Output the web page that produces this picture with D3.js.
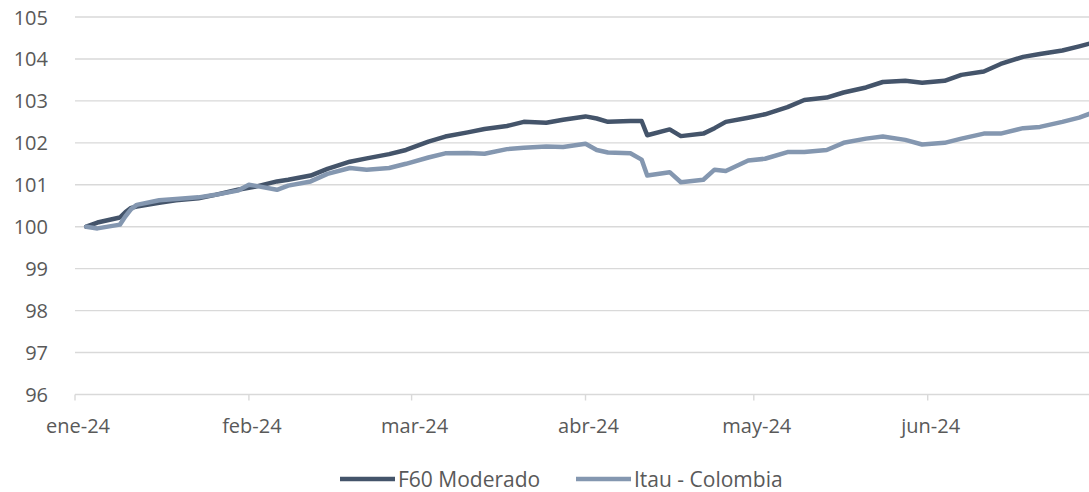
<!DOCTYPE html>
<html>
<head>
    <meta charset="utf-8">
    <title>F60 Moderado vs Itau - Colombia</title>
    <style>
        body { margin: 0; background: #fff; }
        svg text { font-family: "Open Sans", "Noto Sans", sans-serif; fill: #595959; }
    </style>
</head>
<script src="https://d3js.org/d3.v7.min.js"></script>
<body>
    <div id="chart"></div>
</body>

<script>

// dates (roughly every 2-3 business days)
var dates = [
    "2024-01-03","2024-01-05","2024-01-09","2024-01-10","2024-01-11","2024-01-12","2024-01-16","2024-01-19",
    "2024-01-23","2024-01-26","2024-01-30","2024-02-01","2024-02-02","2024-02-06","2024-02-08","2024-02-12",
    "2024-02-15","2024-02-19","2024-02-22","2024-02-26","2024-02-29","2024-03-04","2024-03-07","2024-03-11",
    "2024-03-14","2024-03-18","2024-03-21","2024-03-25","2024-03-28","2024-04-01","2024-04-03","2024-04-05",
    "2024-04-09","2024-04-11","2024-04-12","2024-04-16","2024-04-18","2024-04-22","2024-04-24","2024-04-26",
    "2024-04-30","2024-05-03","2024-05-07","2024-05-10","2024-05-14","2024-05-17","2024-05-21","2024-05-24",
    "2024-05-28","2024-05-31","2024-06-04","2024-06-07","2024-06-11","2024-06-14","2024-06-18","2024-06-21",
    "2024-06-25","2024-06-28","2024-06-30"
];

var f60 = [
    100.00,100.10,100.22,100.35,100.45,100.48,100.57,100.63,
    100.68,100.76,100.88,100.93,100.95,101.08,101.12,101.22,
    101.38,101.55,101.63,101.73,101.83,102.03,102.15,102.25,
    102.33,102.40,102.50,102.48,102.55,102.63,102.58,102.50,
    102.52,102.52,102.18,102.32,102.16,102.22,102.35,102.50,
    102.60,102.68,102.85,103.02,103.08,103.20,103.32,103.45,
    103.48,103.43,103.48,103.62,103.70,103.88,104.05,104.12,
    104.20,104.30,104.37
];

var itau = [
    100.00, 99.96,100.05,100.25,100.42,100.52,100.63,100.66,
    100.70,100.76,100.86,101.00,100.98,100.88,100.98,101.08,
    101.26,101.40,101.36,101.40,101.50,101.65,101.75,101.76,
    101.74,101.85,101.88,101.91,101.90,101.98,101.83,101.77,
    101.75,101.60,101.22,101.30,101.06,101.12,101.36,101.33,
    101.58,101.62,101.78,101.78,101.83,102.00,102.10,102.15,
    102.07,101.96,102.00,102.10,102.22,102.22,102.35,102.38,
    102.50,102.60,102.70
];

var yTicks = [96, 97, 98, 99, 100, 101, 102, 103, 104, 105];
var monthLabels = ["ene-24", "feb-24", "mar-24", "abr-24", "may-24", "jun-24"];
var seriesNames = ["F60 Moderado", "Itau - Colombia"];
var seriesColors = ["#44546A", "#8497B0"];

var width = 1089, height = 492;
var plotLeft = 75, plotRight = 1089, plotTop = 17, plotBottom = 394.5;

var parse = d3.timeParse("%Y-%m-%d");

var svg = d3.select("#chart").append("svg")
    .attr("width", width)
    .attr("height", height);

var x = d3.scaleTime()
    .domain([new Date(2024, 0, 1), new Date(2024, 6, 1)])
    .range([plotLeft, plotLeft + 182 * 5.61]);

var y = d3.scaleLinear()
    .domain([96, 105])
    .range([plotBottom, plotTop]);

// gridlines
svg.append("g").selectAll("line")
    .data(yTicks)
    .enter().append("line")
    .attr("x1", plotLeft)
    .attr("x2", plotRight)
    .attr("y1", d => y(d))
    .attr("y2", d => y(d))
    .attr("stroke", "#d9d9d9")
    .attr("stroke-width", 1.4);

// y labels
svg.append("g").selectAll("text")
    .data(yTicks)
    .enter().append("text")
    .attr("x", 48)
    .attr("y", d => y(d))
    .attr("text-anchor", "end")
    .attr("dominant-baseline", "central")
    .style("font-size", "20px")
    .text(d => d);

// x axis ticks
var monthStarts = d3.timeMonth.range(new Date(2024, 0, 1), new Date(2024, 6, 1));

svg.append("g").selectAll("line")
    .data(monthStarts)
    .enter().append("line")
    .attr("x1", d => x(d))
    .attr("x2", d => x(d))
    .attr("y1", plotBottom)
    .attr("y2", plotBottom + 6)
    .attr("stroke", "#d9d9d9")
    .attr("stroke-width", 1.4);

svg.append("g").selectAll("text")
    .data(monthStarts)
    .enter().append("text")
    .attr("x", d => x(d) + 3)
    .attr("y", 433)
    .attr("text-anchor", "middle")
    .style("font-size", "20px")
    .text((d, i) => monthLabels[i]);

// lines
var line = d3.line()
    .x(d => x(d.date))
    .y(d => y(d.value));

[f60, itau].forEach(function(vals, k) {
    var pts = dates.map((d, i) => ({ date: parse(d), value: vals[i] }));
    svg.append("path")
        .datum(pts)
        .attr("fill", "none")
        .attr("stroke", seriesColors[k])
        .attr("stroke-width", 4.5)
        .attr("stroke-linejoin", "round")
        .attr("stroke-linecap", "round")
        .attr("d", line);
});

// legend
var legendX = [340, 576];
seriesNames.forEach(function(name, k) {
    svg.append("line")
        .attr("x1", legendX[k])
        .attr("x2", legendX[k] + 55)
        .attr("y1", 479)
        .attr("y2", 479)
        .attr("stroke", seriesColors[k])
        .attr("stroke-width", 4.5);
    svg.append("text")
        .attr("x", legendX[k] + 58)
        .attr("y", 479)
        .attr("dominant-baseline", "central")
        .style("font-size", "21px")
        .text(name);
});

</script>
</html>
